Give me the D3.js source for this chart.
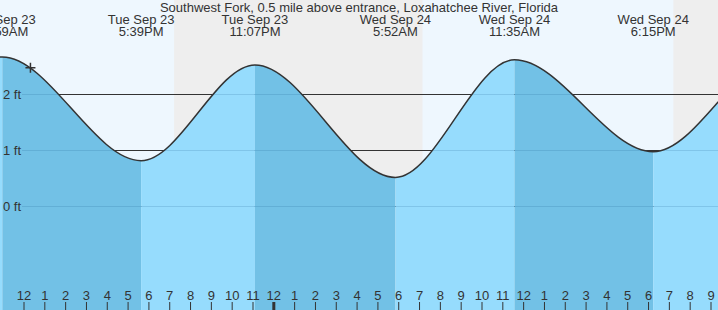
<!DOCTYPE html>
<html>
<head>
<meta charset="utf-8">
<script src="https://cdn.jsdelivr.net/npm/d3@7"></script>
<style>
  html, body { margin: 0; padding: 0; background: #fff; }
  svg { display: block; }
  text { font-family: "Liberation Sans", Arial, sans-serif; fill: #333; }
</style>
</head>
<body>
<svg id="chart" width="718" height="310"></svg>
<script>
// ---- data ----
const title = "Southwest Fork, 0.5 mile above entrance, Loxahatchee River, Florida";
// tide extremes (first and last two are just off-chart estimates)
const tideTimes = ["2025-09-23T04:40", "2025-09-23T10:59", "2025-09-23T17:39", "2025-09-23T23:07",
                   "2025-09-24T05:52", "2025-09-24T11:35", "2025-09-24T18:15",
                   "2025-09-25T00:25", "2025-09-25T06:40"];
const tideHeights = [0.70, 2.66, 0.81, 2.52, 0.51, 2.61, 0.97, 2.72, 0.60];
const labeledExtremes = [1, 2, 3, 4, 5, 6];
const sunsetTimes = ["2025-09-23T19:14", "2025-09-24T19:13"];
const sunriseTimes = ["2025-09-24T07:10", "2025-09-25T07:10"];
const yTicks = [0, 1, 2];
const nowTime = "2025-09-23T12:20";
const nowHeight = 2.47;

// ---- setup ----
const W = 718, H = 310;
const parse = d3.timeParse("%Y-%m-%dT%H:%M");
const svg = d3.select("#chart");

const x = d3.scaleTime()
  .domain([parse("2025-09-23T12:00"), parse("2025-09-24T21:00")])
  .range([23.5, 710.5]);
const y = d3.scaleLinear().domain([0, 2]).range([206, 94]);

const tide = tideTimes.map((t, i) => ({ t: parse(t), h: tideHeights[i] }));

// day background
svg.append("rect").attr("x", 0).attr("y", 0).attr("width", W).attr("height", H).attr("fill", "#eef7fe");
// night shading
sunsetTimes.forEach((s, i) => {
  const x0 = x(parse(s)), x1 = Math.min(W, x(parse(sunriseTimes[i])));
  svg.append("rect").attr("x", x0).attr("y", 0).attr("width", Math.max(0, x1 - x0)).attr("height", H).attr("fill", "#eeeeee");
});

// dark grid lines
svg.append("g").selectAll("line").data(yTicks).join("line")
  .attr("x1", 22).attr("x2", W)
  .attr("y1", d => Math.round(y(d)) + 0.5).attr("y2", d => Math.round(y(d)) + 0.5)
  .attr("stroke", "#333").attr("stroke-width", 1);

// water area
const area = d3.area().x(d => x(d.t)).y0(H).y1(d => y(d.h)).curve(d3.curveMonotoneX);
const line = d3.line().x(d => x(d.t)).y(d => y(d.h)).curve(d3.curveMonotoneX);

svg.append("clipPath").attr("id", "water").append("path").attr("d", area(tide));
const water = svg.append("g").attr("clip-path", "url(#water)");
for (let i = 0; i < tide.length - 1; i++) {
  const rising = tide[i + 1].h > tide[i].h;
  water.append("rect")
    .attr("x", x(tide[i].t)).attr("y", 0)
    .attr("width", x(tide[i + 1].t) - x(tide[i].t)).attr("height", H)
    .attr("fill", rising ? "#96dcfd" : "#72c1e6");
}
// faint grid lines over water
water.selectAll("line").data(yTicks).join("line")
  .attr("x1", 22).attr("x2", W)
  .attr("y1", d => Math.round(y(d)) + 0.5).attr("y2", d => Math.round(y(d)) + 0.5)
  .attr("stroke", "#1a5f8f").attr("stroke-opacity", 0.18).attr("stroke-width", 1);

// tide curve
svg.append("path").attr("d", line(tide)).attr("fill", "none")
  .attr("stroke", "#333").attr("stroke-width", 1.5);

// y labels
svg.append("g").selectAll("text").data(yTicks).join("text")
  .attr("x", 3).attr("y", d => y(d) + 4.5)
  .attr("font-size", 13)
  .text(d => d + " ft");

// title
svg.append("text").attr("x", W / 2).attr("y", 12).attr("text-anchor", "middle")
  .attr("font-size", 13).text(title);

// extreme labels
const fDate = d3.timeFormat("%a %b %d"), fTime = d3.timeFormat("%-I:%M%p");
const lab = svg.append("g").selectAll("g").data(labeledExtremes.map(i => tide[i])).join("g")
  .attr("transform", d => `translate(${x(d.t)},0)`);
lab.append("text").attr("y", 24).attr("text-anchor", "middle").attr("font-size", 13).text(d => fDate(d.t));
lab.append("text").attr("y", 36).attr("text-anchor", "middle").attr("font-size", 13).text(d => fTime(d.t));

// hour axis
const axis = d3.axisTop(x).ticks(d3.timeHour.every(1)).tickFormat(d3.timeFormat("%-I"))
  .tickSize(8).tickPadding(2);
const gx = svg.append("g").attr("transform", `translate(0,${H})`).call(axis);
gx.select(".domain").remove();
gx.selectAll("text").attr("font-size", 13).attr("fill", "#333")
  .style("font-family", '"Liberation Sans", Arial, sans-serif');
gx.selectAll("line").attr("stroke", "#333");
gx.selectAll(".tick").filter(d => d.getHours() === 0).select("line").attr("stroke-width", 3);

// now marker
const nx = x(parse(nowTime)), ny = y(nowHeight);
svg.append("path").attr("d", `M${nx - 5},${ny}H${nx + 5}M${nx},${ny - 5}V${ny + 5}`)
  .attr("stroke", "#333").attr("stroke-width", 1.5);
</script>
</body>
</html>
